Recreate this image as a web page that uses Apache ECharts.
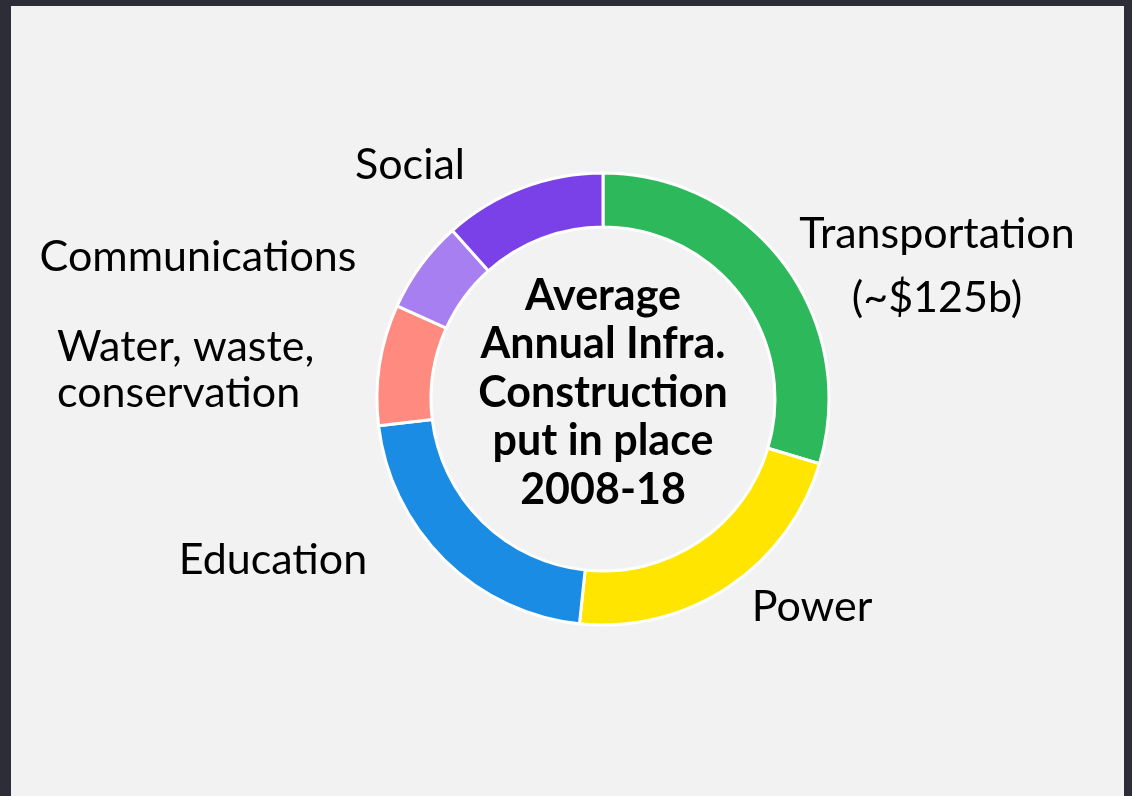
<!DOCTYPE html>
<html lang="en">
<head>
    <meta charset="UTF-8" />
    <title>Average Annual Infra. Construction</title>
    <script src="https://cdn.jsdelivr.net/npm/echarts@6/dist/echarts.min.js"></script>
    <style>
        html, body { margin: 0; padding: 0; background: #2d2d37; }
    </style>
</head>
<body>
<div id="main" style="width: 1132px;height:796px;"></div>
<script type="text/javascript">
    // sector names and values ($b per year, transportation ~125)
    var categories = ['Transportation\n(~$125b)', 'Power', 'Education', 'Water, waste,\nconservation', 'Communications', 'Social'];
    var values = [125, 93, 90.5, 36.5, 28, 49];
    var colors = ['#2eb85c', '#ffe500', '#1a8ce4', '#ff8a80', '#a77ff0', '#7b41e8'];
    var centerText = 'Average\nAnnual Infra.\nConstruction\nput in place\n2008-18';

    // where each label sits on the page
    var labelPos = [
        { x: 937, y: 266, align: 'center', lh: 64 },
        { x: 812, y: 607, align: 'center', lh: 46 },
        { x: 273, y: 560, align: 'center', lh: 46 },
        { x: 57, y: 370, align: 'left', lh: 46 },
        { x: 198, y: 257, align: 'center', lh: 46 },
        { x: 410, y: 165, align: 'center', lh: 46 }
    ];

    var myChart = echarts.init(document.getElementById('main'));

    var option = {
        backgroundColor: '#f2f2f2',
        animation: false,
        graphic: [
            { type: 'rect', shape: { x: 0, y: 0, width: 1132, height: 6 }, style: { fill: '#2d2d37' } },
            { type: 'rect', shape: { x: 0, y: 0, width: 11, height: 796 }, style: { fill: '#2d2d37' } },
            { type: 'rect', shape: { x: 1124, y: 0, width: 8, height: 796 }, style: { fill: '#2d2d37' } },
            {
                type: 'text',
                x: 603,
                y: 393,
                style: {
                    text: centerText,
                    font: 'bold 43px Lato',
                    fill: '#000',
                    textAlign: 'center',
                    textVerticalAlign: 'middle',
                    lineHeight: 48.5
                }
            }
        ],
        series: [
            {
                type: 'pie',
                center: [603, 399],
                radius: [172, 226],
                startAngle: 90,
                avoidLabelOverlap: false,
                itemStyle: {
                    borderColor: '#ffffff',
                    borderWidth: 3
                },
                label: {
                    show: true,
                    position: 'outside',
                    color: '#000',
                    fontFamily: 'Lato',
                    fontSize: 43
                },
                labelLine: { show: false },
                labelLayout: function (params) {
                    var p = labelPos[params.dataIndex];
                    return { x: p.x, y: p.y, align: p.align, verticalAlign: 'middle' };
                },
                data: (function () {
                    var data = [];
                    for (var i = 0; i < categories.length; i++) {
                        data.push({
                            name: categories[i],
                            value: values[i],
                            itemStyle: { color: colors[i] },
                            label: { lineHeight: labelPos[i].lh, align: labelPos[i].align }
                        });
                    }
                    return data;
                })()
            }
        ]
    };
    myChart.setOption(option);
</script>
</body>
</html>
